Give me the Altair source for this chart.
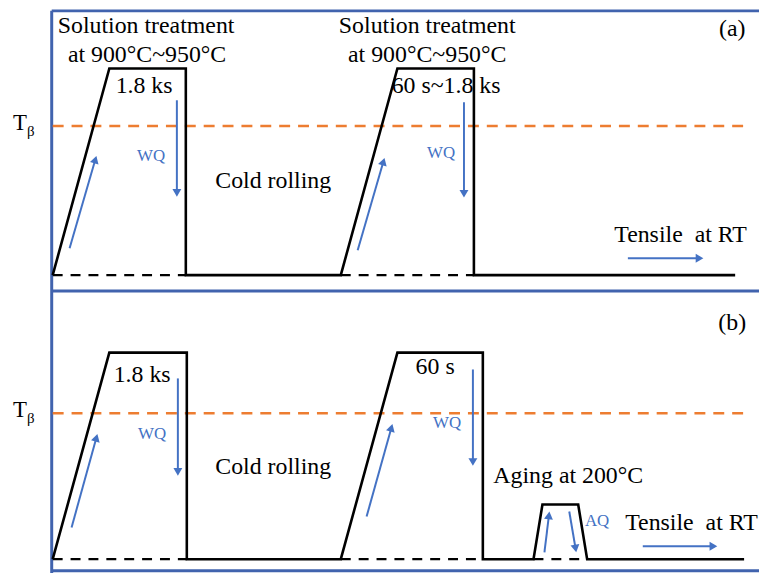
import math
import altair as alt
import pandas as pd

# ---------------- data (schematic coordinates) ----------------
# temperature-time profiles
prof_a_x = [53, 110, 187, 187, 343, 400, 477, 477, 740]
prof_a_y = [275, 67, 67, 275, 275, 67, 67, 275, 275]
prof_b_x = [53, 110, 188, 188, 343, 400, 486, 486, 537, 546, 582, 591, 749]
prof_b_y = [561, 353, 353, 561, 561, 353, 353, 561, 561, 506, 506, 561, 561]

# dashed room-temperature baselines (x start, x end, level)
base_x1 = [53, 343, 53, 343, 537]
base_x2 = [187, 477, 188, 486, 591]
base_y = [275, 275, 561, 561, 561]

# beta transus levels
tb_x1 = [53, 53]
tb_x2 = [748, 748]
tb_y = [125, 414]

# process arrows (tail -> tip)
arr_x1 = [70, 178, 360, 467, 632, 72, 179, 369, 476, 548, 573, 647]
arr_y1 = [248, 99, 250, 101, 258, 529, 379, 518, 370, 554, 513, 548]
arr_x2 = [97, 178, 387, 467, 708, 98, 179, 395, 476, 553, 580, 722]
arr_y2 = [155, 196, 157, 197, 258, 435, 477, 425, 467, 513, 554, 548]

# frame lines
frame_x1 = [52, 52, 52, 52]
frame_x2 = [767, 767, 767, 52]
frame_y1 = [9, 291, 572.5, 9]
frame_y2 = [9, 291, 572.5, 575]

# labels
lab_text = [
    "Solution treatment", "at 900\u00b0C~950\u00b0C",
    "Solution treatment", "at 900\u00b0C~950\u00b0C",
    "1.8 ks", "60 s~1.8 ks", "Cold rolling", "Tensile\u00a0 at RT", "(a)",
    "1.8 ks", "60 s", "Cold rolling", "Aging at 200\u00b0C", "Tensile\u00a0 at RT", "(b)",
]
lab_x = [147, 148, 430, 430, 145, 449, 275, 685, 737,
         143, 438, 275, 572, 696, 737]
lab_y = [31, 60, 31, 60, 92, 92, 187, 242, 34,
         383, 375, 475, 484, 532, 330]

tsym_x = [20, 20]
tsym_y = [129, 418]
beta_x = [31, 31]
beta_y = [135, 424]

small_text = ["WQ", "WQ", "WQ", "WQ", "AQ"]
small_x = [152, 444, 153, 450, 601]
small_y = [160, 157, 440, 429, 528]

# ---------------- page mapping ----------------
W, H = 756, 566
X0, Y0 = 8, 8
xs = alt.Scale(domain=[X0, X0 + W])
ys = alt.Scale(domain=[Y0 + H, Y0])
X = lambda f: alt.X(f, type="quantitative", scale=xs, axis=None)
Y = lambda f: alt.Y(f, type="quantitative", scale=ys, axis=None)

BLACK = "#000000"
ORANGE = "#ED7D31"
BLUE = "#4472C4"
FRAME = "#4163AE"
FONT = "Liberation Serif, Times New Roman, DejaVu Serif, serif"

HEAD_SIZE = 80
HEAD_H = 0.8660254 * math.sqrt(HEAD_SIZE) / 2  # centroid-to-tip distance of triangle-up

prof = pd.concat([
    pd.DataFrame({"x": prof_a_x, "y": prof_a_y, "panel": "a", "o": range(len(prof_a_x))}),
    pd.DataFrame({"x": prof_b_x, "y": prof_b_y, "panel": "b", "o": range(len(prof_b_x))}),
])
base = pd.DataFrame({"x": base_x1, "x2": base_x2, "y": base_y})
tb = pd.DataFrame({"x": tb_x1, "x2": tb_x2, "y": tb_y})
arr = pd.DataFrame({"x": arr_x1, "y": arr_y1, "x2": arr_x2, "y2": arr_y2})
ang, hx, hy = [], [], []
for x1, y1, x2, y2 in zip(arr_x1, arr_y1, arr_x2, arr_y2):
    dx, dy = x2 - x1, y2 - y1
    L = math.hypot(dx, dy)
    ang.append(math.degrees(math.atan2(dx, -dy)) % 360)
    hx.append(x2 - HEAD_H * dx / L)
    hy.append(y2 - HEAD_H * dy / L)
arr["angle"] = ang
arr["hx"] = hx
arr["hy"] = hy
frame = pd.DataFrame({"x": frame_x1, "x2": frame_x2, "y": frame_y1, "y2": frame_y2})
labs = pd.DataFrame({"t": lab_text, "x": lab_x, "y": lab_y})
tsym = pd.DataFrame({"t": ["T", "T"], "x": tsym_x, "y": tsym_y})
beta = pd.DataFrame({"t": ["\u03b2", "\u03b2"], "x": beta_x, "y": beta_y})
small = pd.DataFrame({"t": small_text, "x": small_x, "y": small_y})

frame_layer = alt.Chart(frame).mark_rule(color=FRAME, strokeWidth=3).encode(
    x=X("x"), x2="x2", y=Y("y"), y2="y2")

tb_layer = alt.Chart(tb).mark_rule(color=ORANGE, strokeWidth=2.5, strokeDash=[11, 8]).encode(
    x=X("x"), x2="x2", y=Y("y"))

base_layer = alt.Chart(base).mark_rule(color=BLACK, strokeWidth=2.2, strokeDash=[10, 8]).encode(
    x=X("x"), x2="x2", y=Y("y"))

prof_layer = alt.Chart(prof).mark_line(color=BLACK, strokeWidth=2.6, strokeJoin="miter").encode(
    x=X("x"), y=Y("y"), detail="panel:N", order="o:Q")

shaft_layer = alt.Chart(arr).mark_rule(color=BLUE, strokeWidth=2).encode(
    x=X("x"), y=Y("y"), x2="hx", y2="hy")

head_layer = alt.Chart(arr).mark_point(
    shape="triangle-up", filled=True, color=BLUE, opacity=1, size=HEAD_SIZE
).encode(x=X("hx"), y=Y("hy"), angle=alt.Angle("angle:Q", scale=None))

lab_layer = alt.Chart(labs).mark_text(
    font=FONT, fontSize=24, color=BLACK, align="center", baseline="alphabetic"
).encode(x=X("x"), y=Y("y"), text="t:N")

tsym_layer = alt.Chart(tsym).mark_text(
    font=FONT, fontSize=23, color=BLACK, align="center", baseline="alphabetic"
).encode(x=X("x"), y=Y("y"), text="t:N")

beta_layer = alt.Chart(beta).mark_text(
    font=FONT, fontSize=15, color=BLACK, align="center", baseline="alphabetic"
).encode(x=X("x"), y=Y("y"), text="t:N")

small_layer = alt.Chart(small).mark_text(
    font=FONT, fontSize=17, color=BLUE, align="center", baseline="alphabetic"
).encode(x=X("x"), y=Y("y"), text="t:N")

chart = alt.layer(
    frame_layer, tb_layer, base_layer, prof_layer, shaft_layer, head_layer,
    lab_layer, tsym_layer, beta_layer, small_layer
).properties(
    width=W, height=H, padding=0, autosize=alt.AutoSizeParams(type="none"),
    background="white"
).configure_view(stroke=None)

chart.save("out.html", embed_options={"renderer": "svg", "actions": False})
